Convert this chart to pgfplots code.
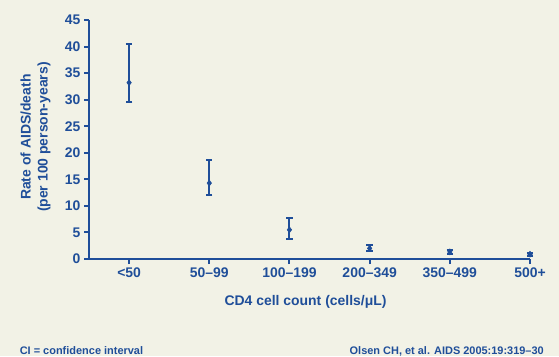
\documentclass[border=0pt]{standalone}
\usepackage{fontspec}
\setmainfont{Liberation Sans}
\usepackage{pgfplots}
\usepackage{pgfplotstable}
\pgfplotsset{compat=1.18}
\definecolor{bg}{HTML}{F2F2E6}
\definecolor{navy}{HTML}{1F4E99}
\pgfplotstableread{
x y ep em
0 33.2 7.2 3.6
1 14.3 4.3 2.25
2 5.5 2.3 1.7
3 2.0 0.6 0.5
4 1.35 0.4 0.45
5 0.9 0.3 0.25
}\rates
\begin{document}
\begin{tikzpicture}[x=1bp,y=1bp]
\fill[bg] (0,0) rectangle (559,356);
\begin{axis}[
  at={(89bp,97bp)}, anchor=south west,
  scale only axis, width=441bp, height=239bp,
  xmin=-0.5, xmax=5, ymin=0, ymax=45,
  axis x line=bottom, axis y line=left,
  axis line style={-, navy, line width=2bp},
  tick align=outside, major tick length=5bp,
  tick style={navy, line width=2bp},
  xtick={0,...,5},
  xticklabels={<50,50–99,100–199,200–349,350–499,500+},
  ytick={0,5,...,45},
  /pgf/number format/assume math mode=true,
  ticklabel style={font=\bfseries\fontsize{14}{17}\selectfont, text=navy},
  label style={font=\bfseries\fontsize{14}{17}\selectfont, text=navy},
  xlabel={CD4 cell count (cells/μL)},
  xlabel style={at={(axis description cs:0.5,0)}, anchor=base, yshift=-46bp, xshift=-4bp},
  ylabel={Rate of AIDS/death\\(per 100 person-years)},
  ylabel style={at={(axis description cs:-0.1213,0.51)}, anchor=center, align=center},
  clip=false,
]
\addplot[navy, only marks, mark=diamond*, mark size=3bp,
  mark options={line width=0.5bp, fill=navy},
  error bars/.cd, y dir=both, y explicit,
  error mark=-,
  error bar style={navy, line width=2bp},
  error mark options={rotate=90, navy, line width=2bp, mark size=3.2bp}]
  table[x=x, y=y, y error plus=ep, y error minus=em] {\rates};
\end{axis}
\node[anchor=base west, inner sep=0pt, text=navy, font=\bfseries\fontsize{11}{13}\selectfont] at (19.6,1.5) {CI = confidence interval};
\node[anchor=base east, inner sep=0pt, text=navy, font=\bfseries\fontsize{11}{13}\selectfont] at (544,1.5) {Olsen CH, et al. AIDS 2005:19:319–30};
\pgfresetboundingbox
\useasboundingbox (0,0) rectangle (559,356);
\end{tikzpicture}
\end{document}
